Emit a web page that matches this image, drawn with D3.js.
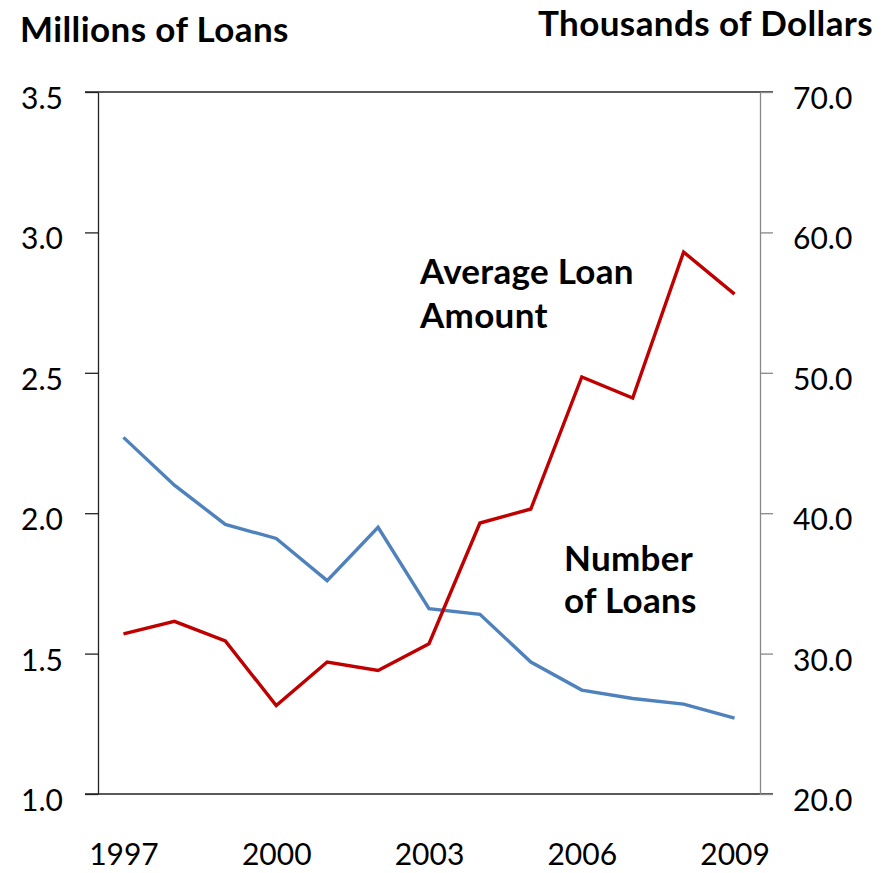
<!DOCTYPE html>
<html lang="en">
<head>
<meta charset="UTF-8">
<title>Loans</title>
<script src="https://d3js.org/d3.v7.min.js"></script>
<style>
    body { margin: 0; background: #fff; }
    svg text { fill: #000; }
    .title { font-family: Lato, "Open Sans", sans-serif; font-weight: bold; font-size: 35px; letter-spacing: 0.4px; }
    .note { font-family: Lato, "Open Sans", sans-serif; font-weight: bold; font-size: 35px; letter-spacing: 0.3px; }
    .tick text { font-family: Lato, "Open Sans", sans-serif; font-size: 30px; }
</style>
</head>
<body>
<svg id="chart" width="893" height="873"></svg>
<script>
    // data
    let years = [1997,1998,1999,2000,2001,2002,2003,2004,2005,2006,2007,2008,2009];
    let numLoans = [2.27,2.10,1.96,1.91,1.76,1.95,1.66,1.64,1.47,1.37,1.34,1.32,1.27];      // millions
    let avgAmount = [31.4,32.3,30.9,26.3,29.4,28.8,30.7,39.3,40.3,49.7,48.2,58.6,55.6];     // thousands $
    let leftTicks = [1.0,1.5,2.0,2.5,3.0,3.5];
    let rightTicks = [20,30,40,50,60,70];
    let yearTicks = [1997,2000,2003,2006,2009];

    let svg = d3.select('#chart');
    let plotL = 98, plotR = 760, plotT = 92, plotB = 794;
    let tick = 13;

    let x = d3.scalePoint().domain(years).range([plotL, plotR]).padding(0.5);
    let yL = d3.scaleLinear().domain([1.0, 3.5]).range([plotB, plotT]);
    let yR = d3.scaleLinear().domain([20, 70]).range([plotB, plotT]);

    // frame lines top & bottom
    svg.append('line').attr('x1', plotL - tick).attr('x2', plotR + tick)
        .attr('y1', plotT).attr('y2', plotT).attr('stroke', '#222').attr('stroke-width', 1.3);
    svg.append('line').attr('x1', plotL - tick).attr('x2', plotR + tick)
        .attr('y1', plotB).attr('y2', plotB).attr('stroke', '#222').attr('stroke-width', 1.3);

    let gL = svg.append('g').attr('transform', 'translate(' + plotL + ',0)')
        .call(d3.axisLeft(yL).tickValues(leftTicks).tickSize(tick).tickSizeOuter(0)
            .tickPadding(22).tickFormat(d3.format('.1f')));
    gL.selectAll('line, path').attr('stroke', '#222').attr('stroke-width', 1.3);
    gL.selectAll('text').attr('dy', '0.55em');

    let gR = svg.append('g').attr('transform', 'translate(' + plotR + ',0)')
        .call(d3.axisRight(yR).tickValues(rightTicks).tickSize(tick).tickSizeOuter(0)
            .tickPadding(20).tickFormat(d3.format('.1f')));
    gR.selectAll('line, path').attr('stroke', '#888').attr('stroke-width', 1.3);
    gR.selectAll('text').attr('dy', '0.55em');

    let gB = svg.append('g').attr('transform', 'translate(0,' + plotB + ')')
        .call(d3.axisBottom(x).tickValues(yearTicks).tickSize(0).tickPadding(50));
    gB.select('.domain').remove();

    let lineL = d3.line().x((d, i) => x(years[i])).y(d => yL(d));
    let lineR = d3.line().x((d, i) => x(years[i])).y(d => yR(d));

    svg.append('path').datum(numLoans).attr('d', lineL)
        .attr('fill', 'none').attr('stroke', '#4f81bd').attr('stroke-width', 3.4);
    svg.append('path').datum(avgAmount).attr('d', lineR)
        .attr('fill', 'none').attr('stroke', '#c00000').attr('stroke-width', 3.4);

    svg.append('text').attr('class', 'title').attr('x', 20).attr('y', 42).text('Millions of Loans');
    svg.append('text').attr('class', 'title').attr('x', 873).attr('y', 36)
        .attr('text-anchor', 'end').text('Thousands of Dollars');

    svg.append('text').attr('class', 'note').attr('x', 420).attr('y', 284).text('Average Loan');
    svg.append('text').attr('class', 'note').attr('x', 420).attr('y', 328).text('Amount');
    svg.append('text').attr('class', 'note').attr('x', 564).attr('y', 571).text('Number');
    svg.append('text').attr('class', 'note').attr('x', 564).attr('y', 613).text('of Loans');
</script>
</body>
</html>
